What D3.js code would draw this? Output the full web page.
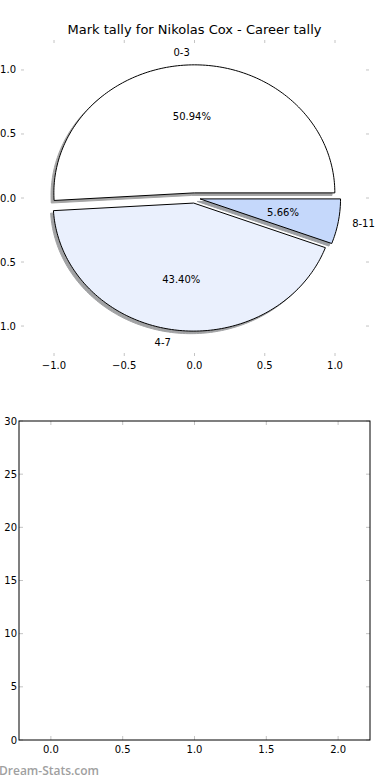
<!DOCTYPE html>
<html>
<head>
<meta charset="utf-8">
<script src="https://cdn.jsdelivr.net/npm/d3@7"></script>
<style>
  body { margin: 0; background: #fff; }
  svg { display: block; font-family: "DejaVu Sans", sans-serif; }
  .tick-label { font-size: 10px; fill: #000; }
</style>
</head>
<body>
<div id="chart"></div>
<script>
// data
const labels = ['0-3', '4-7', '8-11']
const counts = [27, 23, 3]
const colors = ['#ffffff', '#eaf0fd', '#c5d8fb']
const explode = [0.04, 0.04, 0.04]
const pieTicks = [-1.0, -0.5, 0.0, 0.5, 1.0]
const barXTicks = [0.0, 0.5, 1.0, 1.5, 2.0]
const barYTicks = [0, 5, 10, 15, 20, 25, 30]

const width = 390, height = 780
const svg = d3.select('#chart').append('svg')
  .attr('width', width).attr('height', height)

const fmt = d3.format('.1f')
const minus = (s) => s.replace('-', '\u2212')
const tickColor = '#c4c4c4'

// ---- pie axes ----
const px = d3.scaleLinear().domain([-1.235, 1.242]).range([21, 369])
const py = d3.scaleLinear().domain([-1.234, 1.234]).range([356, 40])

svg.append('text')
  .attr('x', 194.5).attr('y', 34)
  .attr('text-anchor', 'middle')
  .style('font-size', '13px')
  .text('Mark tally for Nikolas Cox - Career tally')

let pieAxis = svg.append('g')
pieTicks.forEach(t => {
  // x ticks top and bottom
  pieAxis.append('line').attr('x1', px(t)).attr('x2', px(t)).attr('y1', 40).attr('y2', 43).attr('stroke', tickColor)
  pieAxis.append('line').attr('x1', px(t)).attr('x2', px(t)).attr('y1', 356).attr('y2', 353).attr('stroke', tickColor)
  pieAxis.append('text').attr('class', 'tick-label')
    .attr('x', px(t)).attr('y', 369).attr('text-anchor', 'middle')
    .text(minus(fmt(t)))
  // y ticks left and right
  pieAxis.append('line').attr('x1', 21).attr('x2', 24).attr('y1', py(t)).attr('y2', py(t)).attr('stroke', tickColor)
  pieAxis.append('line').attr('x1', 369).attr('x2', 366).attr('y1', py(t)).attr('y2', py(t)).attr('stroke', tickColor)
  pieAxis.append('text').attr('class', 'tick-label')
    .attr('x', 16).attr('y', py(t)).attr('dy', '0.35em').attr('text-anchor', 'end')
    .text(minus(fmt(t)))
})

// matplotlib style: start at 3 o'clock, counter clockwise
const total = d3.sum(counts)
const arcs = d3.pie().sort(null).startAngle(Math.PI / 2).endAngle(Math.PI / 2 - 2 * Math.PI)(counts)
  .map((a, i) => {
    let t1 = Math.PI / 2 - a.startAngle
    let t2 = Math.PI / 2 - a.endAngle
    let tm = (t1 + t2) / 2
    return {
      i: i, t1: t1, t2: t2, tm: tm,
      cx: explode[i] * Math.cos(tm), cy: explode[i] * Math.sin(tm),
      pct: counts[i] / total
    }
  })

const line = d3.line().x(d => px(d[0])).y(d => py(d[1]))

function wedgePts(a, ox, oy) {
  let pts = [[a.cx + ox, a.cy + oy]]
  let n = Math.max(8, Math.ceil((a.t2 - a.t1) / 0.02))
  for (let k = 0; k <= n; k++) {
    let t = a.t1 + (a.t2 - a.t1) * k / n
    pts.push([a.cx + ox + Math.cos(t), a.cy + oy + Math.sin(t)])
  }
  pts.push([a.cx + ox, a.cy + oy])
  return pts
}

function darker(c) {
  let r = d3.rgb(c)
  return d3.rgb(r.r * 0.3, r.g * 0.3, r.b * 0.3).toString()
}

// shadows first
svg.append('g').selectAll('path')
  .data(arcs).enter().append('path')
  .attr('d', d => line(wedgePts(d, -0.02, -0.02)) + 'Z')
  .attr('fill', d => darker(colors[d.i]))
  .attr('stroke', d => darker(colors[d.i]))
  .attr('stroke-width', 1)
  .attr('opacity', 0.5)

svg.append('g').selectAll('path')
  .data(arcs).enter().append('path')
  .attr('d', d => line(wedgePts(d, 0, 0)) + 'Z')
  .attr('fill', d => colors[d.i])
  .attr('stroke', '#000')
  .attr('stroke-width', 1)
  .attr('stroke-linejoin', 'round')

// labels
svg.append('g').selectAll('text')
  .data(arcs).enter().append('text')
  .attr('class', 'tick-label')
  .attr('x', d => px(d.cx + 1.1 * Math.cos(d.tm)))
  .attr('y', d => py(d.cy + 1.1 * Math.sin(d.tm)))
  .attr('dy', '0.35em')
  .attr('text-anchor', d => Math.cos(d.tm) > 0 ? 'start' : 'end')
  .text(d => labels[d.i])

svg.append('g').selectAll('text')
  .data(arcs).enter().append('text')
  .attr('class', 'tick-label')
  .attr('x', d => px(d.cx + 0.6 * Math.cos(d.tm)))
  .attr('y', d => py(d.cy + 0.6 * Math.sin(d.tm)))
  .attr('dy', '0.35em')
  .attr('text-anchor', 'middle')
  .text(d => (d.pct * 100).toFixed(2) + '%')

// ---- empty bar axes ----
const bx = d3.scaleLinear().domain([-0.222, 2.222]).range([19, 370])
const by = d3.scaleLinear().domain([0, 30]).range([740, 421])

let bar = svg.append('g')
barXTicks.forEach(t => {
  bar.append('line').attr('x1', bx(t)).attr('x2', bx(t)).attr('y1', 740).attr('y2', 736).attr('stroke', tickColor)
  bar.append('line').attr('x1', bx(t)).attr('x2', bx(t)).attr('y1', 421).attr('y2', 425).attr('stroke', tickColor)
  bar.append('text').attr('class', 'tick-label')
    .attr('x', bx(t)).attr('y', 753).attr('text-anchor', 'middle')
    .text(fmt(t))
})
barYTicks.forEach(t => {
  bar.append('line').attr('x1', 19).attr('x2', 23).attr('y1', by(t)).attr('y2', by(t)).attr('stroke', tickColor)
  bar.append('line').attr('x1', 370).attr('x2', 366).attr('y1', by(t)).attr('y2', by(t)).attr('stroke', tickColor)
  bar.append('text').attr('class', 'tick-label')
    .attr('x', 17).attr('y', by(t)).attr('dy', '0.35em').attr('text-anchor', 'end')
    .text(t)
})
bar.append('rect')
  .attr('x', 19).attr('y', 421)
  .attr('width', 370 - 19).attr('height', 740 - 421)
  .attr('fill', 'none').attr('stroke', '#000').attr('stroke-width', 1)

svg.append('text')
  .attr('x', -1).attr('y', 775)
  .style('font-family', '"Open Sans", sans-serif')
  .style('font-size', '12px')
  .style('font-weight', '600')
  .attr('fill', '#a0a0a0')
  .text('Dream-Stats.com')
</script>
</body>
</html>
